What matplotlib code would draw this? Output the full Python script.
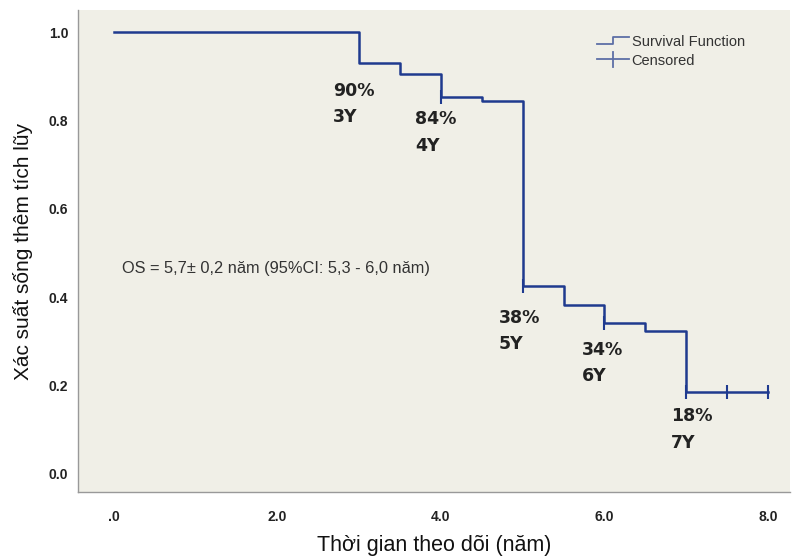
import matplotlib
matplotlib.use("Agg")
import matplotlib.pyplot as plt
from matplotlib.lines import Line2D
from matplotlib.legend_handler import HandlerBase

# Data
step_times = [0.0, 3.0, 3.5, 4.0, 4.5, 5.0, 5.5, 6.0, 6.5, 7.0, 8.0]
step_surv = [1.0, 0.929, 0.905, 0.854, 0.844, 0.425, 0.382, 0.341, 0.324, 0.186, 0.186]
censor_times = [4.0, 5.0, 6.0, 7.0, 7.5, 8.0]
censor_surv = [0.854, 0.425, 0.341, 0.186, 0.186, 0.186]
annot_pct = ["90%", "84%", "38%", "34%", "18%"]
annot_year = ["3Y", "4Y", "5Y", "6Y", "7Y"]
annot_x = [2.68, 3.68, 4.71, 5.72, 6.81]
annot_y = [0.867, 0.803, 0.353, 0.281, 0.131]
xticks = [0, 2, 4, 6, 8]
xtick_labels = [".0", "2.0", "4.0", "6.0", "8.0"]
yticks = [0.0, 0.2, 0.4, 0.6, 0.8, 1.0]
ytick_labels = ["0.0", "0.2", "0.4", "0.6", "0.8", "1.0"]
os_text = "OS = 5,7± 0,2 năm (95%CI: 5,3 - 6,0 năm)"

plt.rcParams['font.family'] = ['Liberation Sans', 'DejaVu Sans']

line_color = "#1f3a8f"
leg_color = "#5d6fa6"

fig = plt.figure(figsize=(7.92, 5.58), dpi=100)
ax = fig.add_axes([78/792, 66/558, 712/792, 482/558])
ax.set_facecolor("#f0efe7")

ax.step(step_times, step_surv, where="post", color=line_color, lw=1.8)
ax.plot(censor_times, censor_surv, linestyle="none", marker="|", markersize=10,
        markeredgewidth=1.5, color=line_color)

for x, y, p, yr in zip(annot_x, annot_y, annot_pct, annot_year):
    ax.text(x, y, p, fontsize=12.5, fontweight="bold", color="#222222",
            ha="left", va="center", family=['DejaVu Sans'])
    ax.text(x, y - 0.06, yr, fontsize=12.5, fontweight="bold", color="#222222",
            ha="left", va="center", family=['DejaVu Sans'])

ax.text(0.095, 0.466, os_text, fontsize=11.8, color="#333333", ha="left", va="center")

ax.set_xlim(-0.44, 8.27)
ax.set_ylim(-0.041, 1.05)
ax.set_xticks(xticks)
ax.set_xticklabels(xtick_labels, fontweight="bold", fontsize=10)
ax.set_yticks(yticks)
ax.set_yticklabels(ytick_labels, fontweight="bold", fontsize=10)
ax.tick_params(axis="both", length=0, colors="#222222")
ax.tick_params(axis="x", pad=13)
ax.tick_params(axis="y", pad=7)

for s in ["top", "right"]:
    ax.spines[s].set_visible(False)
for s in ["left", "bottom"]:
    ax.spines[s].set_color("#999999")
    ax.spines[s].set_linewidth(1.0)

ax.set_xlabel("Thời gian theo dõi (năm)", fontsize=15.5, labelpad=8, color="#111111")
ax.set_ylabel("Xác suất sống thêm tích lũy", fontsize=15, labelpad=11, color="#111111")


class StepHandler(HandlerBase):
    def create_artists(self, legend, orig_handle, xdescent, ydescent, width, height, fontsize, trans):
        xs = [0, width * 0.5, width * 0.5, width]
        ys = [height * 0.2, height * 0.2, height * 0.9, height * 0.9]
        ln = Line2D(xs, ys, color=leg_color, lw=1.3, transform=trans)
        return [ln]


class CensorHandler(HandlerBase):
    def create_artists(self, legend, orig_handle, xdescent, ydescent, width, height, fontsize, trans):
        ln = Line2D([0, width], [height / 2, height / 2], color=leg_color, lw=1.3, transform=trans)
        tk = Line2D([width / 2, width / 2], [-height * 0.2, height * 1.2], color=leg_color,
                    lw=1.3, transform=trans)
        return [ln, tk]


h1 = Line2D([], [], color=leg_color)
h2 = Line2D([], [], color=leg_color, marker="|")
leg = ax.legend([h1, h2], ["Survival Function", "Censored"],
                handler_map={h1: StepHandler(), h2: CensorHandler()},
                loc="upper left", bbox_to_anchor=(0.71, 0.975), frameon=False,
                fontsize=10.5, handlelength=2.2, handletextpad=0.2, labelspacing=0.3)
for t in leg.get_texts():
    t.set_color("#333333")

fig.savefig("out.png", dpi=100)
